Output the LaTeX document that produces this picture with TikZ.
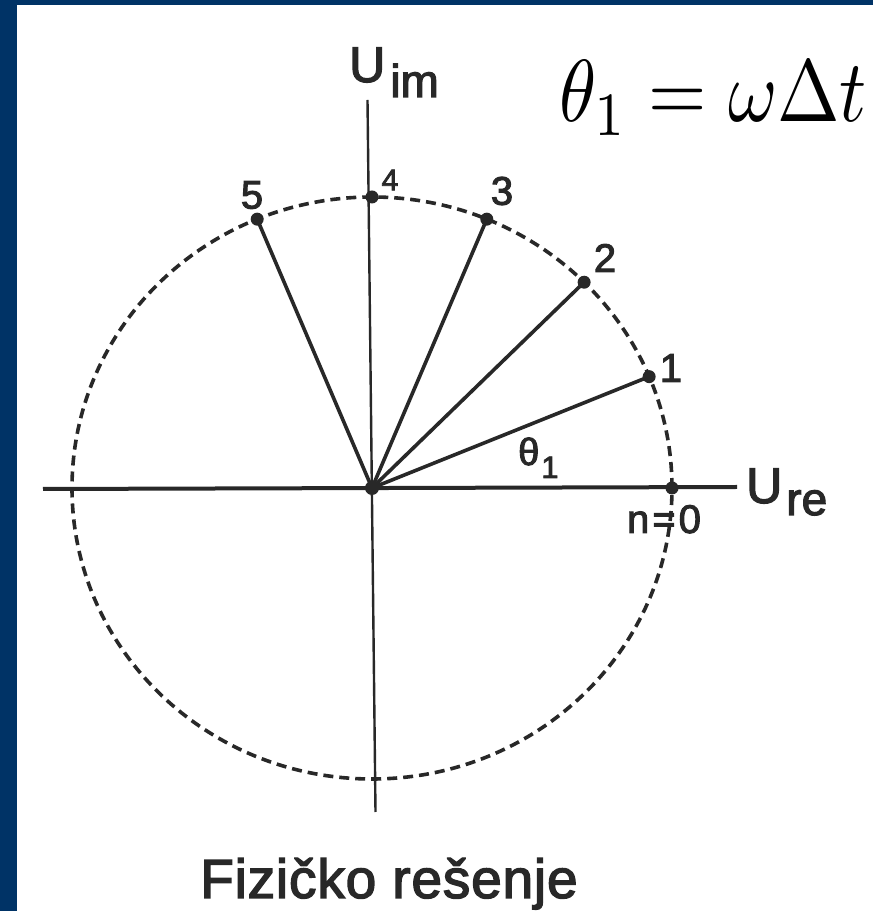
\documentclass[tikz,border=0pt]{standalone}
\usepackage{graphicx}
\usepackage{fontspec}
\newfontfamily\labfont[FakeBold=2.5]{Liberation Sans}
\newfontfamily\capfont[FakeBold=2.5,LetterSpace=1.5]{Liberation Sans}
\definecolor{navy}{RGB}{0,51,102}
\definecolor{ink}{RGB}{40,40,40}
\tikzset{
  ray/.style={draw=ink, line width=3.6pt},
  axisx/.style={draw=ink, line width=4pt},
  axisy/.style={draw=ink, line width=2.4pt},
  circdash/.style={draw=ink, line width=3.6pt, dash pattern=on 10pt off 6pt},
  dotpt/.style={circle, fill=ink, inner sep=0pt, minimum size=13pt},
  lab/.style={text=ink, inner sep=0pt, font=\labfont\fontsize{40}{40}\selectfont},
}
\begin{document}
\begin{tikzpicture}[x=1pt,y=1pt]
\useasboundingbox (0,0) rectangle (873,911);
\fill[navy] (0,0) rectangle (873,911);
\fill[white] (17,0) rectangle (873,906);

\coordinate (O) at (372,423);
\coordinate (xl) at (43,422);
\coordinate (xr) at (737,424);
\coordinate (yt) at (367.5,811);
\coordinate (yb) at (375.5,99);

% axes
\draw[axisx] (xl) -- (xr);
\draw[axisy] (yt) -- (yb);

% dashed circle
\draw[circdash] (O) ellipse [x radius=300, y radius=291];

% points on the circle
\foreach \i in {0,...,5}{
  \coordinate (p\i) at ([shift={(O)}]{22.5*\i}:300 and 291);
}
\foreach \i in {1,2,3,5}{
  \draw[ray] (O) -- (p\i);
}
\foreach \i in {0,...,5}{
  \node[dotpt] (d\i) at (p\i) {};
}
\fill[ink] (O) circle (7pt);

% labels
\node[lab] (l1) at (671,543) {1};
\node[lab] (l2) at (605,653) {2};
\node[lab] (l3) at (502,720) {3};
\node[lab, font=\labfont\fontsize{30}{30}\selectfont] (l4) at (390,731) {4};
\node[lab] (l5) at (252,716) {5};
\node[lab, anchor=base] (n0) at (664,378) {n\hspace{3pt}=\hspace{3pt}0};
\node[lab, anchor=base west, font=\labfont\fontsize{38}{38}\selectfont] (th) at (518,446)
  {θ\hspace{2pt}\raisebox{-13pt}{\fontsize{31}{31}\selectfont 1}};

\node[lab, anchor=base west, font=\labfont\fontsize{50}{50}\selectfont] (uim) at (349,829)
  {U\hspace{5pt}\raisebox{-15pt}{\fontsize{46}{46}\selectfont im}};
\node[lab, anchor=base west, font=\labfont\fontsize{50}{50}\selectfont] (ure) at (746,408)
  {U\hspace{4pt}\raisebox{-12pt}{\fontsize{46}{46}\selectfont re}};

\node[anchor=base west, inner sep=0pt, text=black] (eq) at (559,789)
  {\scalebox{7.5}[8.8]{$\theta_1 = \omega\Delta t$}};

\node[lab, anchor=base west, font=\capfont\fontsize{55}{55}\selectfont] (cap) at (200,13)
  {Fizičko rešenje};
\end{tikzpicture}
\end{document}
